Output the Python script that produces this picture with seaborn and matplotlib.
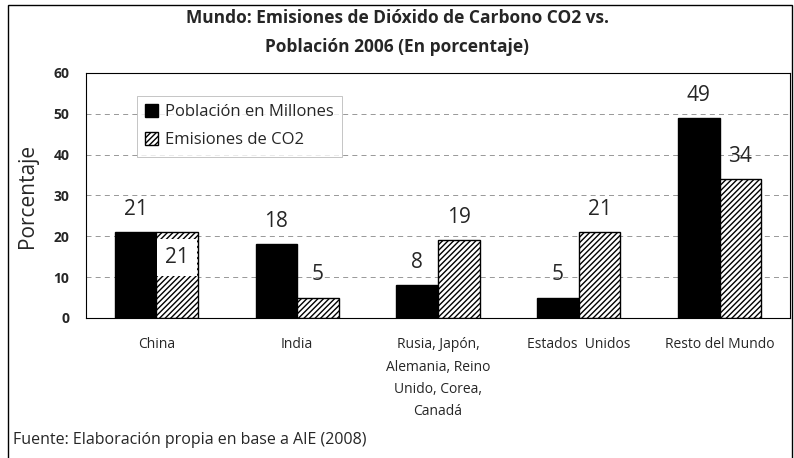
import numpy as np
import pandas as pd
import matplotlib.pyplot as plt
import seaborn as sns
from matplotlib.patches import Rectangle

regiones = ['China', 'India', 'Rusia, Japón,\nAlemania, Reino\nUnido, Corea,\nCanadá',
            'Estados  Unidos', 'Resto del Mundo']
poblacion = [21, 18, 8, 5, 49]
emisiones = [21, 5, 19, 21, 34]
series = ['Población en Millones', 'Emisiones de CO2']

df = pd.DataFrame({
    'Region': regiones * 2,
    'Valor': poblacion + emisiones,
    'Serie': [series[0]] * len(regiones) + [series[1]] * len(regiones),
})

sns.set_style('white')
plt.rcParams['font.family'] = ['Open Sans', 'DejaVu Sans']
plt.rcParams['hatch.linewidth'] = 1.0

fig = plt.figure(figsize=(7.94, 4.58), dpi=100)
ax = fig.add_axes([0.1083, 0.3057, 0.8866, 0.535])

sns.barplot(data=df, x='Region', y='Valor', hue='Serie', palette=['black', 'white'],
            width=0.59, edgecolor='black', linewidth=1.0, ax=ax)

# relleno rayado para emisiones
for p in ax.containers[1]:
    p.set_hatch('//////')

# etiquetas de valores
for i, p in enumerate(ax.containers[0]):
    ax.text(p.get_x() + p.get_width() / 2, p.get_height() + 3, str(poblacion[i]),
            ha='center', va='bottom', fontsize=15)
for i, p in enumerate(ax.containers[1]):
    cx = p.get_x() + p.get_width() / 2
    if i == 0:
        ax.text(cx, 14.8, str(emisiones[i]), ha='center', va='center', fontsize=15,
                bbox=dict(facecolor='white', edgecolor='none', pad=6))
    else:
        ax.text(cx, p.get_height() + 3, str(emisiones[i]),
                ha='center', va='bottom', fontsize=15)

ax.set_ylim(0, 60)
ax.set_yticks(range(0, 61, 10))
ax.set_xlim(-0.5, 4.5)
for yv in range(10, 60, 10):
    ax.axhline(yv, color='#888888', linestyle=(0, (6, 5)), linewidth=0.6, zorder=0)
ax.tick_params(axis='y', labelsize=10, length=0, pad=12)
ax.tick_params(axis='x', labelsize=10, length=0, pad=14)
for lbl in ax.get_yticklabels():
    lbl.set_fontweight('bold')
for lbl in ax.get_xticklabels():
    lbl.set_linespacing(1.65)
ax.set_xlabel('')
ax.set_ylabel('Porcentaje', fontsize=15)
ax.yaxis.set_label_coords(-0.068, 0.5)
for s in ax.spines.values():
    s.set_linewidth(0.8)
    s.set_color('black')

leg = ax.legend(loc='upper left', bbox_to_anchor=(0.06, 0.94), fontsize=12,
                frameon=True, fancybox=False, edgecolor='#aaaaaa', handlelength=0.8,
                handleheight=0.8, handletextpad=0.4, labelspacing=0.7, borderpad=0.5)
leg.get_frame().set_linewidth(0.6)
leg.legend_handles[1].set_hatch('//////')

fig.text(0.5, 1 - 18 / 458, 'Mundo: Emisiones de Dióxido de Carbono CO2 vs.',
         ha='center', va='center', fontsize=12.5, fontweight='bold')
fig.text(0.5, 1 - 47 / 458, 'Población 2006 (En porcentaje)',
         ha='center', va='center', fontsize=12.5, fontweight='bold')
fig.text(0.016, 1 - 440 / 458, 'Fuente: Elaboración propia en base a AIE (2008)',
         ha='left', va='center', fontsize=11.5)

fig.patches.append(Rectangle((0.010, -0.01), 0.987, 0.999, transform=fig.transFigure,
                             fill=False, edgecolor='black', linewidth=1.0))

fig.savefig('out.png', dpi=100)
